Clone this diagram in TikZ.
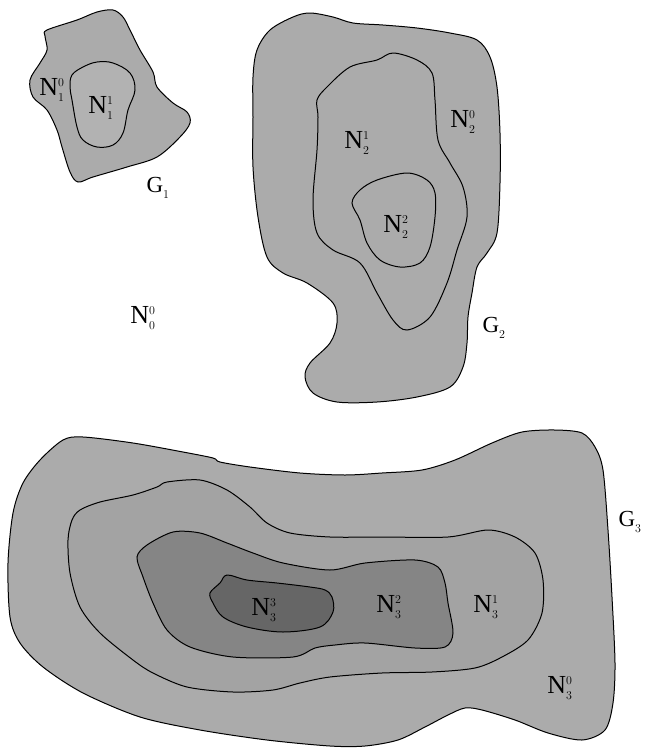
\documentclass[tikz,border=0pt]{standalone}
\usepackage{fontspec}
\setmainfont{Liberation Serif}
\newcommand{\lblN}[3]{#1$^{\scriptscriptstyle #3}_{\scriptscriptstyle #2}$}
\begin{document}
\begin{tikzpicture}[x=1pt,y=-1pt,
  region/.style={draw=black, line width=1pt, fill=#1},
  region/.default={black!33},
  lab/.style={font=\fontsize{26}{28}\selectfont, inner sep=0pt},
  glab/.style={font=\fontsize{23}{25}\selectfont, inner sep=0pt}]
\useasboundingbox (0,0) rectangle (645,748);
% ---------- G1 ----------
\path[region] plot[smooth cycle, tension=0.55] coordinates {(47,30) (77,20) (97,12) (113,10) (123,17) (130,30) (140,50) (153,72) (157,87) (173,103) (187,112) (190,123) (180,137) (157,157) (127,167) (93,177) (78,182) (70,172) (62,147) (57,130) (47,110) (33,97) (30,80) (40,63) (47,50) (45,36)};
\path[region=black!30] plot[smooth cycle, tension=0.6] coordinates {(72,75) (83,67) (97,62) (113,63) (130,73) (135,90) (128,110) (123,133) (113,145) (97,147) (83,140) (77,127) (72,100) (70,87)};
% ---------- G2 ----------
\path[region] plot[smooth cycle, tension=0.55] coordinates {(257,50) (270,30) (293,17) (310,13) (333,17) (353,23) (383,25) (417,28) (450,33) (477,40) (490,57) (497,87) (500,133) (500,183) (497,233) (487,253) (477,267) (472,293) (468,317) (467,343) (463,367) (450,387) (417,397) (377,402) (337,402) (313,393) (305,377) (310,363) (330,343) (337,323) (333,303) (307,283) (283,273) (267,257) (258,217) (253,167) (253,117) (253,77)};
\path[region] plot[smooth cycle, tension=0.55] coordinates {(317,100) (327,87) (350,67) (377,60) (393,53) (417,60) (432,73) (435,100) (438,140) (450,163) (463,187) (467,217) (457,250) (447,283) (430,317) (407,330) (393,320) (377,293) (360,263) (333,250) (317,233) (313,200) (317,150) (318,117)};
\path[region] plot[smooth cycle, tension=0.55] coordinates {(352,203) (360,190) (377,180) (407,173) (427,180) (435,193) (435,217) (430,247) (420,263) (400,267) (380,260) (367,243) (360,220)};
% ---------- G3 ----------
\path[region] plot[smooth cycle, tension=0.5] coordinates {(63,440) (83,437) (133,443) (183,452) (213,458) (220,462) (250,467) (300,473) (345,475) (382,473) (422,470) (455,460) (492,443) (522,432) (555,430) (582,433) (595,447) (603,470) (608,530) (612,597) (615,663) (613,703) (605,730) (582,740) (548,733) (515,720) (482,710) (465,708) (448,715) (425,727) (398,740) (365,746) (330,746) (267,740) (200,730) (140,717) (83,693) (43,667) (20,643) (10,617) (8,563) (13,513) (23,483) (40,460)};
\path[region=black!36] plot[smooth cycle, tension=0.5] coordinates {(68,540) (72,520) (80,510) (100,502) (133,495) (157,487) (167,482) (200,480) (227,490) (250,507) (267,523) (290,533) (330,537) (382,537) (448,537) (488,530) (515,537) (535,553) (543,580) (542,613) (528,640) (502,657) (475,668) (432,672) (382,673) (330,677) (300,683) (273,690) (233,692) (187,687) (153,673) (133,660) (100,633) (80,607) (70,573)};
\path[region=black!48] plot[smooth cycle, tension=0.5] coordinates {(137,557) (147,545) (173,532) (200,533) (227,543) (253,553) (283,563) (330,570) (365,563) (415,560) (438,567) (445,583) (448,603) (453,633) (445,647) (415,648) (365,643) (335,645) (315,648) (293,657) (233,657) (190,647) (167,630) (153,603) (143,577)};
\path[region=black!60] plot[smooth cycle, tension=0.55] coordinates {(210,593) (220,583) (227,575) (247,580) (277,583) (310,587) (325,590) (332,597) (333,612) (320,627) (283,632) (247,627) (223,617) (213,603)};
% ---------- labels ----------
\node[lab] (n10) at (52,90) {\lblN{N}{1}{0}};
\node[lab] (n11) at (101,108) {\lblN{N}{1}{1}};
\node[glab] (g1) at (158,188) {\lblN{G}{1}{}};
\node[lab] (n00) at (143,318) {\lblN{N}{0}{0}};
\node[lab] (n20) at (463,122) {\lblN{N}{2}{0}};
\node[lab] (n21) at (357,143) {\lblN{N}{2}{1}};
\node[lab] (n22) at (396,227) {\lblN{N}{2}{2}};
\node[glab] (g2) at (494,328) {\lblN{G}{2}{}};
\node[lab] (n33) at (264,610) {\lblN{N}{3}{3}};
\node[lab] (n32) at (389,607) {\lblN{N}{3}{2}};
\node[lab] (n31) at (486,607) {\lblN{N}{3}{1}};
\node[lab] (n30) at (560,688) {\lblN{N}{3}{0}};
\node[glab] (g3) at (630,522) {\lblN{G}{3}{}};
\end{tikzpicture}
\end{document}
